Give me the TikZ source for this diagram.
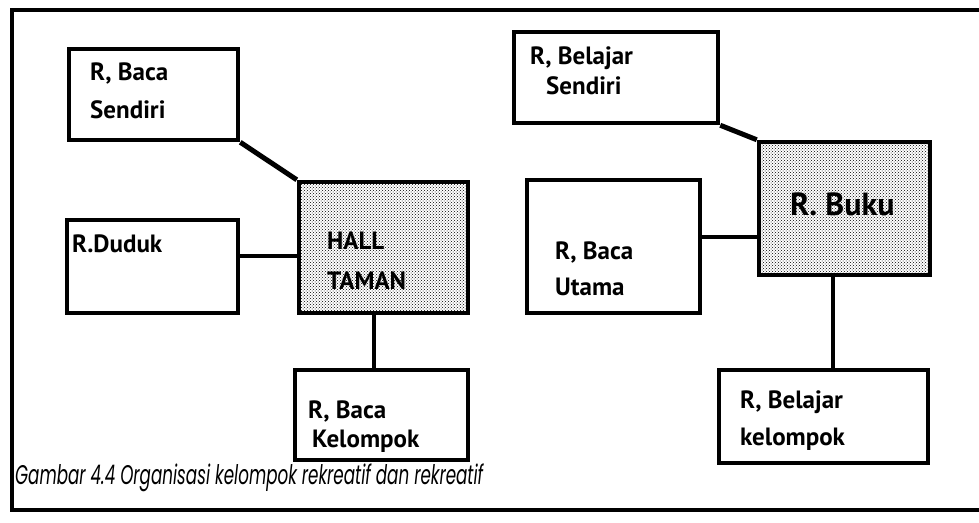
\documentclass[tikz,border=0pt]{standalone}
\usepackage{fontspec}
\setmainfont{PT Sans}
\newfontfamily\capfont{Poppins}
\usetikzlibrary{patterns,calc}
\tikzset{
  room/.style={draw, line width=4.5pt, fill=white, inner sep=0pt},
  hub/.style={room, pattern=crosshatch dots, pattern color=black},
  roomtext/.style={font=\fontsize{25}{38}\selectfont\bfseries, align=left, inner sep=0pt, anchor=north west},
  link/.style={line width=4pt}
}
\begin{document}
\begin{tikzpicture}[x=1pt,y=1pt]
\useasboundingbox (0,0) rectangle (979,-522);
\draw[line width=3.5pt] (979,-10) -- (12,-10) -- (12,-510) -- (979,-510);
% left group
\node[room, minimum width=169pt, minimum height=91pt] (bacasendiri) at (153.5,-94.5) {};
\node[room, minimum width=171pt, minimum height=93pt] (duduk) at (152.5,-266.5) {};
\node[hub, minimum width=169pt, minimum height=131pt] (hall) at (383.5,-247.5) {};
\node[room, minimum width=173pt, minimum height=90pt] (bacakelompok) at (381.5,-415) {};
\node[roomtext] (bacasendiri-t) at (90,-63) {R, Baca\\Sendiri};
\node[roomtext] (duduk-t) at (72,-235) {R.Duduk};
\node[roomtext] (hall-t) at (327,-232) {HALL\\[2pt]TAMAN};
\node[roomtext] (bacakelompok-t) at (308,-401) {R, Baca\\[-9pt]\hspace*{4pt}Kelompok};
\draw[link, line width=5pt] (bacasendiri.south east) -- (hall.north west);
\draw[link] ([yshift=11pt]duduk.east) -- ([yshift=11pt]duduk.east -| hall.west);
\draw[link] ([xshift=-10pt]hall.south) -- ([xshift=-10pt]hall.south |- bacakelompok.north);
% right group
\node[room, minimum width=204pt, minimum height=91pt] (belajarsendiri) at (616,-77.5) {};
\node[room, minimum width=173pt, minimum height=133pt] (bacautama) at (613.5,-246.5) {};
\node[hub, minimum width=171pt, minimum height=133pt] (buku) at (844.5,-208.5) {};
\node[room, minimum width=209pt, minimum height=93pt] (belajarkelompok) at (823.5,-416.5) {};
\node[roomtext] (belajarsendiri-t) at (530,-47) {R, Belajar\\[-8pt]\hspace*{16pt}Sendiri};
\node[roomtext] (bacautama-t) at (555,-242) {R, Baca\\[-2pt]Utama};
\node[roomtext, font=\fontsize{32}{38}\selectfont\bfseries] (buku-t) at (790,-193) {R. Buku};
\node[roomtext] (belajarkelompok-t) at (740,-391) {R, Belajar\\[-1pt]kelompok};
\draw[link, line width=5pt] (belajarsendiri.south east) -- (buku.north west);
\draw[link] ([yshift=9.5pt]bacautama.east) -- ([yshift=9.5pt]bacautama.east -| buku.west);
\draw[link] ([xshift=-11.5pt]buku.south) -- ([xshift=-11.5pt]buku.south |- belajarkelompok.north);
% caption
\node[inner sep=0pt, anchor=base west] (caption) at (15,-484)
  {\resizebox{468pt}{\height}{\capfont\itshape\fontsize{27}{30}\selectfont Gambar 4.4 Organisasi kelompok rekreatif dan rekreatif}};
\end{tikzpicture}
\end{document}
